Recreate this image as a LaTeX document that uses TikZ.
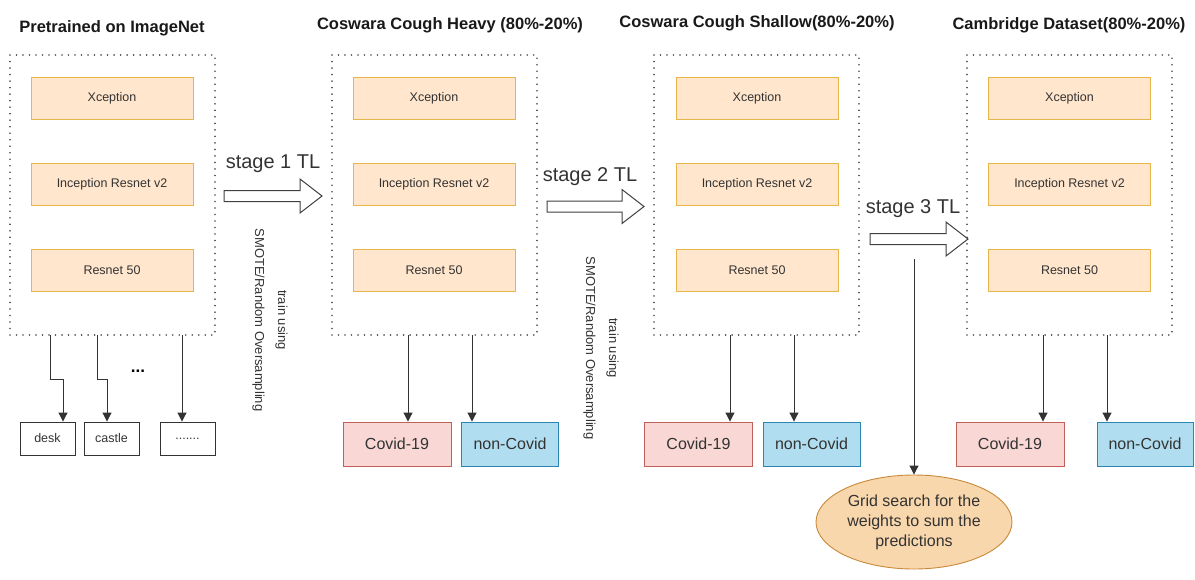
\documentclass[tikz,border=0pt]{standalone}
\usepackage{fontspec}
\setmainfont{Liberation Sans}
\usetikzlibrary{arrows.meta,shapes.geometric}
\definecolor{orfill}{HTML}{FFE6CC}
\definecolor{ordraw}{HTML}{E8B54A}
\definecolor{redfill}{HTML}{F8D7D4}
\definecolor{reddraw}{HTML}{C0605A}
\definecolor{bluefill}{HTML}{B1DDF0}
\definecolor{bluedraw}{HTML}{2A85B0}
\definecolor{ellfill}{HTML}{F9D7AC}
\definecolor{elldraw}{HTML}{C88A3A}
\definecolor{txt}{HTML}{333333}
\newcommand{\blockarrow}[3]{\draw[bigarrow] (#1,#3-5.5) -- (#2-22,#3-5.5) -- (#2-22,#3-17) -- (#2,#3) -- (#2-22,#3+17) -- (#2-22,#3+5.5) -- (#1,#3+5.5) -- cycle;}
\begin{document}
\begin{tikzpicture}[x=1pt,y=-1pt,
 model/.style={draw=ordraw,fill=orfill,line width=0.9pt,minimum width=162pt,minimum height=42pt,inner sep=0pt,font=\fontsize{12.5}{14}\selectfont,text=txt},
 group/.style={draw=black!70,line width=1.7pt,dash pattern=on 0.01pt off 6.5pt,line cap=round,minimum width=205pt,minimum height=280pt,inner sep=0pt},
 title/.style={font=\bfseries\fontsize{16.5}{19}\selectfont,text=black!90},
 covid/.style={draw=reddraw,fill=redfill,line width=0.9pt,minimum width=108pt,minimum height=44pt,font=\fontsize{16}{19}\selectfont,text=txt,inner sep=0pt},
 noncovid/.style={draw=bluedraw,fill=bluefill,line width=0.9pt,minimum width=97pt,minimum height=44pt,font=\fontsize{16}{19}\selectfont,text=txt,inner sep=0pt},
 cls/.style={draw=black!80,line width=0.9pt,minimum width=55pt,minimum height=33pt,font=\fontsize{12.5}{14}\selectfont,text=txt,inner sep=0pt},
 conn/.style={draw=black!80,line width=1pt,-{Triangle[length=9pt,width=9pt]}},
 stagelbl/.style={font=\fontsize{20}{24}\selectfont,text=txt},
 note/.style={font=\fontsize{13}{23}\selectfont,text=txt,rotate=-90,align=center},
 bigarrow/.style={draw=black!75,line width=1pt,fill=white},
]
\useasboundingbox (0,0) rectangle (1195,579);

% titles
\node[title] (t1) at (112,28) {Pretrained on ImageNet};
\node[title] (t2) at (450,25) {Coswara Cough Heavy (80\%-20\%)};
\node[title] (t3) at (757,23) {Coswara Cough Shallow(80\%-20\%)};
\node[title] (t4) at (1069,25) {Cambridge Dataset(80\%-20\%)};

% groups
\node[group] (g1) at (112.5,195) {};
\node[group] (g2) at (434.5,195) {};
\node[group] (g3) at (756.5,195) {};
\node[group] (g4) at (1069.5,195) {};

% models
\node[model] (x1) at (112,98) {Xception};
\node[model] (i1) at (112,184) {Inception Resnet v2};
\node[model] (r1) at (112,270) {Resnet 50};
\node[model] (x2) at (434,98) {Xception};
\node[model] (i2) at (434,184) {Inception Resnet v2};
\node[model] (r2) at (434,270) {Resnet 50};
\node[model] (x3) at (757,98) {Xception};
\node[model] (i3) at (757,184) {Inception Resnet v2};
\node[model] (r3) at (757,270) {Resnet 50};
\node[model] (x4) at (1069.5,98) {Xception};
\node[model] (i4) at (1069.5,184) {Inception Resnet v2};
\node[model] (r4) at (1069.5,270) {Resnet 50};

% ImageNet classes
\node[cls] (desk) at (47.5,438.5) {desk};
\node[cls] (castle) at (111.5,438.5) {castle};
\node[cls] (more) at (187.5,438.5) {.......};
\node[font=\bfseries\fontsize{17}{18}\selectfont] (dots) at (138,371) {...};
\coordinate (d1) at (50,335);
\coordinate (d2) at (97,335);
\coordinate (d3) at (182,335);
\draw[conn] (d1) -- ++(0,44) -| ([xshift=15.5pt]desk.north);
\draw[conn] (d2) -- ++(0,44) -| ([xshift=-4.5pt]castle.north);
\draw[conn] (d3) -- (d3 |- more.north);

% outputs
\node[covid] (c2) at (397,444) {Covid-19};
\node[noncovid] (n2) at (510,444) {non-Covid};
\node[covid] (c3) at (698.5,444) {Covid-19};
\node[noncovid] (n3) at (811.5,444) {non-Covid};
\node[covid] (c4) at (1010,444) {Covid-19};
\node[noncovid, minimum width=96pt] (n4) at (1145,444) {non-Covid};
\coordinate (a2) at (408,335);
\coordinate (b2) at (472,335);
\coordinate (a3) at (730,335);
\coordinate (b3) at (794,335);
\coordinate (a4) at (1043,335);
\coordinate (b4) at (1107,335);
\draw[conn] (a2) -- (a2 |- c2.north);
\draw[conn] (b2) -- (b2 |- n2.north);
\draw[conn] (a3) -- (a3 |- c3.north);
\draw[conn] (b3) -- (b3 |- n3.north);
\draw[conn] (a4) -- (a4 |- c4.north);
\draw[conn] (b4) -- (b4 |- n4.north);

% stage arrows
\blockarrow{224}{322}{196}
\blockarrow{547}{644}{206.5}
\blockarrow{870}{968}{239}
\node[stagelbl] (s1) at (273,164) {stage 1 TL};
\node[stagelbl] (s2) at (590,177) {stage 2 TL};
\node[stagelbl] (s3) at (913,209) {stage 3 TL};
\node[note] (n1lbl) at (270,320) {train using\\SMOTE/Random Oversampling};
\node[note] (n2lbl) at (601,348) {train using\\SMOTE/Random Oversampling};

% grid search
\node[ellipse,draw=elldraw,fill=ellfill,line width=0.9pt,minimum width=196pt,minimum height=94pt,inner sep=0pt,align=center,font=\fontsize{16}{20}\selectfont,text=txt] (grid) at (914,522) {Grid search for the\\weights to sum the\\predictions};
\coordinate (gs) at (914,259);
\draw[conn] (gs) -- (grid.north);
\end{tikzpicture}
\end{document}
